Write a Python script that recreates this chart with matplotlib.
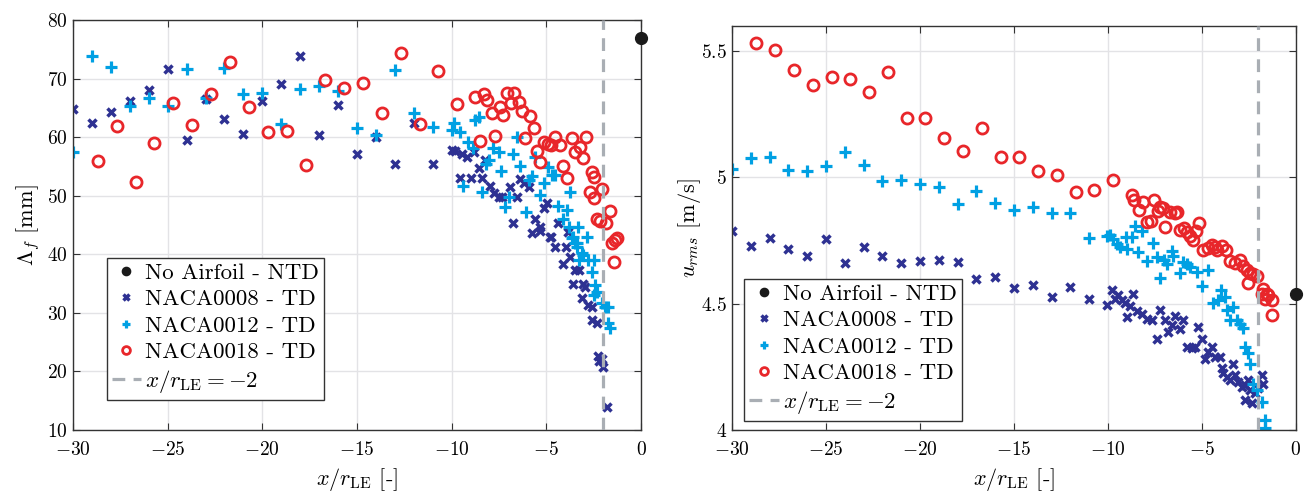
import matplotlib
import matplotlib.pyplot as plt
import numpy as np

matplotlib.use("Agg")

plt.rcParams["font.family"] = "serif"
plt.rcParams["font.serif"] = ["cmr10"]
plt.rcParams["mathtext.fontset"] = "cm"
plt.rcParams["axes.unicode_minus"] = False

# ---- Left panel: integral length scale Lambda_f [mm] vs x/r_LE ----
lam_ntd_x = [0.0]
lam_ntd_y = [76.9]

lam_0008_x = [-30, -29, -28, -27, -26, -25, -24, -23, -22, -21, -20, -19, -18, -17, -16, -15, -14, -13, -12, -11,
              -9.98, -9.8, -9.45, -9.19, -8.84, -9.58, -8.98, -8.4, -8.58, -8.22, -8.0, -7.79, -7.52, -7.34, -6.94,
              -6.55, -6.38, -6.17, -6.76, -5.94, -4.97, -5.15, -5.59, -5.32, -5.76, -4.41, -4.76, -4.53, -3.95, -3.88,
              -5.36, -4.8, -4.13, -3.74, -3.48, -3.3, -3.57, -3.07, -2.95, -3.13, -2.78, -2.6, -2.6, -2.33, -2.25,
              -2.07, -2.2, -2.02, -1.81]
lam_0008_y = [64.8, 62.4, 64.3, 66.2, 68.0, 71.6, 59.5, 66.5, 63.1, 60.5, 66.1, 69.1, 73.9, 60.3, 65.5, 57.1, 60.1, 55.4, 62.5, 55.4,
              57.8, 57.7, 57.1, 56.55, 57.5, 53.1, 53.0, 53.1, 54.7, 56.1, 51.7, 50.4, 49.8, 49.7, 51.5,
              49.7, 52.8, 52.2, 45.3, 51.5, 48.8, 47.85, 46.1, 44.7, 43.7, 45.3, 43.0, 41.3, 41.3, 43.85,
              44.0, 42.9, 38.3, 39.6, 37.4, 37.3, 35.0, 35.0, 34.5, 32.5, 31.3, 31.05, 28.7, 28.3, 22.6,
              22.2, 21.7, 20.8, 14.0]

lam_0012_x = [-30, -29, -28, -27, -26, -25, -24, -23, -22, -21, -20, -19, -18, -17, -16, -15, -14, -13, -12, -11,
              -9.9, -9.98, -9.55, -9.15, -8.9, -8.75, -8.58, -7.8, -7.5, -8.05, -8.2, -9.4, -8.4, -7.4, -7.17,
              -7.0, -6.76, -6.55, -6.38, -6.1, -5.94, -5.76, -5.36, -5.59, -5.15, -4.89, -4.71, -4.53, -3.74,
              -4.36, -3.92, -4.13, -3.83, -3.31, -2.86, -3.57, -3.39, -3.65, -3.48, -3.36, -3.13, -3.04, -3.3,
              -2.78, -2.51, -2.6, -2.42, -2.33, -2.48, -2.07, -1.9, -1.72, -1.72, -1.63]
lam_0012_y = [57.5, 73.9, 71.9, 65.3, 66.6, 65.3, 71.6, 66.6, 71.8, 67.4, 67.6, 62.2, 68.2, 68.7, 67.9, 61.5, 60.4, 71.4, 64.2, 61.7,
              62.4, 61.3, 60.8, 59.2, 58.1, 63.0, 63.4, 58.1, 57.5, 56.1, 55.5, 51.7, 50.7, 54.3, 48.1,
              49.7, 57.1, 60.1, 55.0, 47.3, 52.7, 53.3, 50.1, 56.6, 52.1, 54.85, 53.5, 53.5, 50.7,
              48.2, 47.6, 46.1, 44.7, 44.7, 43.0, 43.0, 41.9, 42.7, 41.9, 41.3, 40.2, 39.9, 39.0,
              39.0, 39.0, 37.0, 34.8, 33.6, 33.0, 31.6, 31.05, 31.05, 28.2, 27.4]

lam_0018_x = [-28.7, -27.7, -26.7, -25.7, -24.7, -23.7, -22.7, -21.7, -20.7, -19.7, -18.7, -17.7, -16.7, -15.7,
              -14.7, -13.7, -12.7, -11.7, -10.7, -9.72,
              -8.75, -8.31, -8.14, -7.87, -7.47, -7.29, -7.08, -6.69, -6.87, -6.47, -6.29, -5.89, -5.68, -8.52,
              -7.7, -6.11, -5.5, -5.32, -5.11, -4.94, -4.76, -4.53, -4.27, -3.65, -3.48, -3.22, -3.07, -2.9,
              -4.1, -3.92, -2.6, -2.48, -2.69, -2.48, -2.07, -2.33, -2.16, -1.85, -1.63, -1.54, -1.37, -1.28, -1.42]
lam_0018_y = [56.0, 61.9, 52.4, 59.05, 65.9, 62.0, 67.4, 72.9, 65.2, 60.8, 61.05, 55.2, 69.7, 68.4,
              69.2, 64.2, 74.3, 62.2, 71.3, 65.6,
              66.8, 67.4, 66.3, 64.1, 65.2, 63.8, 67.5, 67.5, 65.8, 66.05, 64.5, 63.6, 61.5, 59.4,
              60.2, 59.8, 57.7, 55.8, 59.2, 58.9, 58.7, 60.0, 58.7, 59.8, 57.5, 58.4, 56.4, 60.0,
              55.0, 53.0, 54.1, 53.25, 50.7, 49.55, 51.1, 46.0, 45.6, 45.3, 47.4, 41.9, 42.4, 42.7, 38.7]

# ---- Right panel: u_rms [m/s] vs x/r_LE ----
urms_ntd_x = [0.0]
urms_ntd_y = [4.54]

urms_0008_x = [-30, -29, -28, -27, -26, -25, -24, -23, -22, -21, -20, -19, -18, -17, -16, -15, -14, -13, -12, -11,
               -10.04, -9.8, -9.63, -9.45, -9.27, -9.1, -9.0, -8.83, -8.65, -8.47, -8.21, -7.94, -7.68, -7.41,
               -7.23, -6.97, -6.79, -6.61, -6.44, -6.17, -5.99, -5.81, -5.55, -5.37, -5.2, -5.02, -4.84, -4.66,
               -4.48, -4.31, -4.04, -3.95, -3.87, -3.69, -3.51, -3.33, -3.24, -3.07, -2.89, -2.71, -2.54, -2.71,
               -2.36, -2.18, -2.0, -1.82, -1.74, -2.45]
urms_0008_y = [4.790, 4.730, 4.761, 4.717, 4.691, 4.757, 4.662, 4.726, 4.688, 4.662, 4.671, 4.675, 4.664, 4.599,
               4.605, 4.562, 4.575, 4.526, 4.568, 4.520,
               4.497, 4.553, 4.520, 4.533, 4.513, 4.503, 4.447, 4.490, 4.537, 4.471, 4.458, 4.441, 4.434, 4.362,
               4.474, 4.434, 4.388, 4.415, 4.450, 4.401, 4.437, 4.329, 4.323, 4.327, 4.408, 4.362, 4.283, 4.309,
               4.329, 4.289, 4.289, 4.244, 4.224, 4.210, 4.197, 4.263, 4.217, 4.191, 4.171, 4.178, 4.197, 4.118,
               4.105, 4.145, 4.165, 4.217, 4.184, 4.158]

urms_0012_x = [-30, -29, -28, -27, -26, -25, -24, -23, -22, -21, -20, -19, -18, -17, -16, -15, -14, -13, -12, -11,
               -10.07, -9.89, -9.72, -9.54, -9.36, -9.04, -9.0, -8.74, -8.56, -8.21, -7.59, -8.39, -7.94, -7.41,
               -7.23, -7.02, -6.88, -6.61, -6.53, -6.17, -5.99, -5.81, -5.64, -5.28, -5.02, -4.66, -4.40, -4.13,
               -4.01, -3.78, -3.69, -3.33, -3.51, -3.16, -2.98, -2.8, -2.71, -2.54, -2.45, -2.27, -2.09, -1.82,
               -1.65, -1.65]
urms_0012_y = [5.035, 5.079, 5.083, 5.029, 5.026, 5.046, 5.099, 5.049, 4.987, 4.990, 4.974, 4.961, 4.897, 4.947,
               4.900, 4.871, 4.882, 4.859, 4.859, 4.759,
               4.770, 4.774, 4.757, 4.737, 4.724, 4.763, 4.717, 4.766, 4.809, 4.790, 4.739, 4.704, 4.671, 4.687,
               4.603, 4.674, 4.658, 4.708, 4.691, 4.621, 4.664, 4.658, 4.645, 4.625, 4.572, 4.634, 4.503, 4.513,
               4.553, 4.526, 4.476, 4.487, 4.434, 4.434, 4.421, 4.402, 4.329, 4.303, 4.263, 4.184, 4.158, 4.112,
               4.040, 4.008]

urms_0018_x = [-28.72, -27.71, -26.7, -25.7, -24.7, -23.72, -22.71, -21.72, -20.71, -19.73, -18.72, -17.73, -16.72,
               -15.71, -14.72, -13.71, -12.73, -11.72, -10.73, -9.72,
               -8.74, -8.62, -8.12, -8.34, -7.55, -7.23, -7.32, -7.06, -6.7, -6.44, -6.31, -7.94, -7.73, -6.97,
               -6.17, -5.96, -5.81, -5.64, -5.49, -5.32, -5.14, -4.93, -4.66, -4.48, -4.22, -3.95, -3.72, -4.31,
               -3.51, -3.24, -2.98, -2.8, -2.62, -2.45, -2.27, -2.09, -2.54, -1.77, -1.56, -1.82, -1.65, -1.47,
               -1.29, -1.29]
urms_0018_y = [5.533, 5.504, 5.425, 5.365, 5.398, 5.392, 5.338, 5.418, 5.237, 5.234, 5.156, 5.105, 5.195,
               5.082, 5.082, 5.026, 5.009, 4.944, 4.951, 4.990,
               4.932, 4.911, 4.901, 4.871, 4.911, 4.882, 4.869, 4.879, 4.862, 4.858, 4.862, 4.822, 4.826, 4.805,
               4.792, 4.800, 4.783, 4.770, 4.753, 4.787, 4.818, 4.711, 4.721, 4.734, 4.711, 4.730, 4.711, 4.726,
               4.668, 4.660, 4.674, 4.651, 4.632, 4.621, 4.616, 4.608, 4.582, 4.559, 4.537, 4.540, 4.520, 4.533,
               4.513, 4.457]

x_ref = -2
x_ticks = [-30, -25, -20, -15, -10, -5, 0]

c_ntd = "#1a1a1a"
c_0008 = "#2e3192"
c_0012 = "#00a0e3"
c_0018 = "#e8262a"
c_ref = "#a9aeb4"


def draw(ax, ntd, s08, s12, s18):
    ax.plot(*ntd, "o", color=c_ntd, markersize=8.5, clip_on=False, zorder=5, label="No Airfoil - NTD")
    ax.plot(*s08, "x", color=c_0008, markersize=5.5, markeredgewidth=2.5, linestyle="none", label="NACA0008 - TD")
    ax.plot(*s12, "+", color=c_0012, markersize=8, markeredgewidth=2.3, linestyle="none", label="NACA0012 - TD")
    ax.plot(*s18, "o", color=c_0018, markerfacecolor="none", markersize=8, markeredgewidth=2,
            linestyle="none", label="NACA0018 - TD")
    ax.axvline(x_ref, color=c_ref, linewidth=2.3, linestyle=(0, (4, 2.6)), zorder=6,
               label=r"$x/r_{\mathrm{LE}} = -2$")
    ax.set_xlim(-30, 0)
    ax.set_xticks(x_ticks, labels=[f"${t}$" for t in x_ticks])
    ax.set_xlabel(r"$x/r_{\mathrm{LE}}$ [-]", fontsize=16, labelpad=5)
    ax.grid(True, color="#e3e3e6", linewidth=1)
    ax.set_axisbelow(True)
    ax.tick_params(direction="in", top=True, right=True, length=5, labelsize=14, color="#333333")
    ax.tick_params(axis="x", pad=8)
    for sp in ax.spines.values():
        sp.set_color("#333333")
        sp.set_linewidth(1)


def add_legend(ax, anchor):
    leg = ax.legend(loc="lower left", bbox_to_anchor=anchor, borderaxespad=0, fontsize=16.5,
                    fancybox=False, edgecolor="#333333", framealpha=1, handlelength=1.3,
                    handletextpad=0.15, labelspacing=0.27, borderpad=0.22, markerscale=0.7)
    leg.get_frame().set_linewidth(1)
    return leg


fig = plt.figure(figsize=(13.04, 4.95), dpi=100)
ax1 = fig.add_axes([0.056, 0.1313, 0.4356, 0.8283])
ax2 = fig.add_axes([0.5613, 0.1313, 0.4325, 0.8162])

draw(ax1, (lam_ntd_x, lam_ntd_y), (lam_0008_x, lam_0008_y), (lam_0012_x, lam_0012_y), (lam_0018_x, lam_0018_y))
ax1.set_ylim(10, 80)
lt = [10, 20, 30, 40, 50, 60, 70, 80]
ax1.set_yticks(lt, labels=[f"${t}$" for t in lt])
ax1.set_ylabel(r"$\Lambda_f$ [mm]", fontsize=16, labelpad=4)
add_legend(ax1, (0.059, 0.073))

draw(ax2, (urms_ntd_x, urms_ntd_y), (urms_0008_x, urms_0008_y), (urms_0012_x, urms_0012_y), (urms_0018_x, urms_0018_y))
ax2.set_ylim(4, 5.6)
ut = [4, 4.5, 5, 5.5]
ax2.set_yticks(ut, labels=[f"${t:g}$" for t in ut])
ax2.set_ylabel(r"$u_{rms}$ [m/s]", fontsize=16)
ax2.yaxis.set_label_coords(-0.052, 0.5)
add_legend(ax2, (0.022, 0.022))

plt.savefig("out.png", dpi=100)
